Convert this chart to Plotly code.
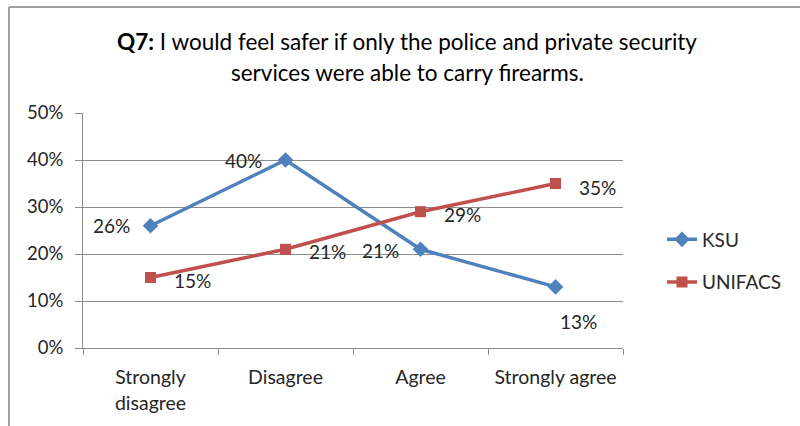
import plotly.graph_objects as go

# Survey responses (share of respondents)
categories = ["Strongly<br>disagree", "Disagree", "Agree", "Strongly agree"]
ksu = [26, 40, 21, 13]
unifacs = [15, 21, 29, 35]
y_ticks = [0, 10, 20, 30, 40, 50]

FONT = "Lato"
TXT = "#262626"
BLUE = "#4F81BD"
RED = "#C0504D"
GRID = "#8C8C8C"

# plot area in pixels: x 83..623, y 113..348
L, R, T, B = 83, 177, 113, 78
W, H = 800, 426
pw, ph = W - L - R, H - T - B


def px_x(px):
    return (px - L) / pw


def px_y(py):
    return (H - B - py) / ph


fig = go.Figure()
fig.add_trace(go.Scatter(
    x=categories, y=ksu, name="KSU", mode="lines+markers",
    line=dict(color=BLUE, width=3.5),
    marker=dict(symbol="diamond", size=12, color=BLUE),
    legendgroup="a",
))
fig.add_trace(go.Scatter(
    x=categories, y=unifacs, name="UNIFACS", mode="lines+markers",
    line=dict(color=RED, width=3.5),
    marker=dict(symbol="square", size=11, color=RED),
    legendgroup="b",
))

# data labels offset from each point
ksu_shift = [(-39, 0), (-42, 0), (-40, -1), (23, -35)]
uni_shift = [(42, -3), (42, -2), (42, -3), (42, -4)]
annotations = []
for vals, shifts in ((ksu, ksu_shift), (unifacs, uni_shift)):
    for c, v, (dx, dy) in zip(categories, vals, shifts):
        annotations.append(dict(
            x=c, y=v, xref="x", yref="y", text=f"{v}%", showarrow=False,
            xshift=dx, yshift=dy, font=dict(family=FONT, size=19, color=TXT),
        ))

# two-line chart title
title_lines = [
    "<b>Q7:</b> I would feel safer if only the police and private security",
    "services were able to carry firearms.",
]
for i, line in enumerate(title_lines):
    annotations.append(dict(
        x=px_x(407), y=px_y(42 + 30 * i), xref="paper", yref="paper",
        text=line, showarrow=False, xanchor="center", yanchor="middle",
        font=dict(family=FONT, size=22.5, color="#000000"),
    ))

fig.update_layout(
    width=W, height=H,
    margin=dict(l=L, r=R, t=T, b=B, pad=0),
    paper_bgcolor="white", plot_bgcolor="white",
    font=dict(family=FONT, size=19, color=TXT),
    annotations=annotations,
    showlegend=True,
    legend=dict(
        x=px_x(662), y=px_y(261), xanchor="left", yanchor="middle",
        font=dict(family=FONT, size=19, color=TXT),
        tracegroupgap=15, traceorder="grouped", bgcolor="rgba(0,0,0,0)",
    ),
    xaxis=dict(
        type="category", showgrid=False, showline=True, linecolor=GRID, linewidth=1,
        ticks="outside", ticklen=6, tickcolor=GRID, tickson="boundaries",
        range=[-0.5, 3.5], tickfont=dict(family=FONT, size=19.5, color=TXT),
        ticklabelstandoff=12, fixedrange=True,
    ),
    yaxis=dict(
        range=[0, 50], tickvals=y_ticks, ticktext=[f"{t}%" for t in y_ticks],
        showgrid=True, gridcolor=GRID, gridwidth=1, showline=True, linecolor=GRID,
        ticks="outside", ticklen=7, tickcolor=GRID, zeroline=False,
        tickfont=dict(family=FONT, size=18.5, color=TXT), ticklabelstandoff=8,
    ),
    shapes=[
        # chart frame (top and left edges)
        dict(type="line", xref="paper", yref="paper",
             x0=px_x(9), x1=px_x(W + 5), y0=px_y(7), y1=px_y(7),
             line=dict(color="#A0A0A0", width=2)),
        dict(type="line", xref="paper", yref="paper",
             x0=px_x(9), x1=px_x(9), y0=px_y(7), y1=px_y(H + 5),
             line=dict(color="#A0A0A0", width=2)),
    ],
)

fig.write_html("out.html")
